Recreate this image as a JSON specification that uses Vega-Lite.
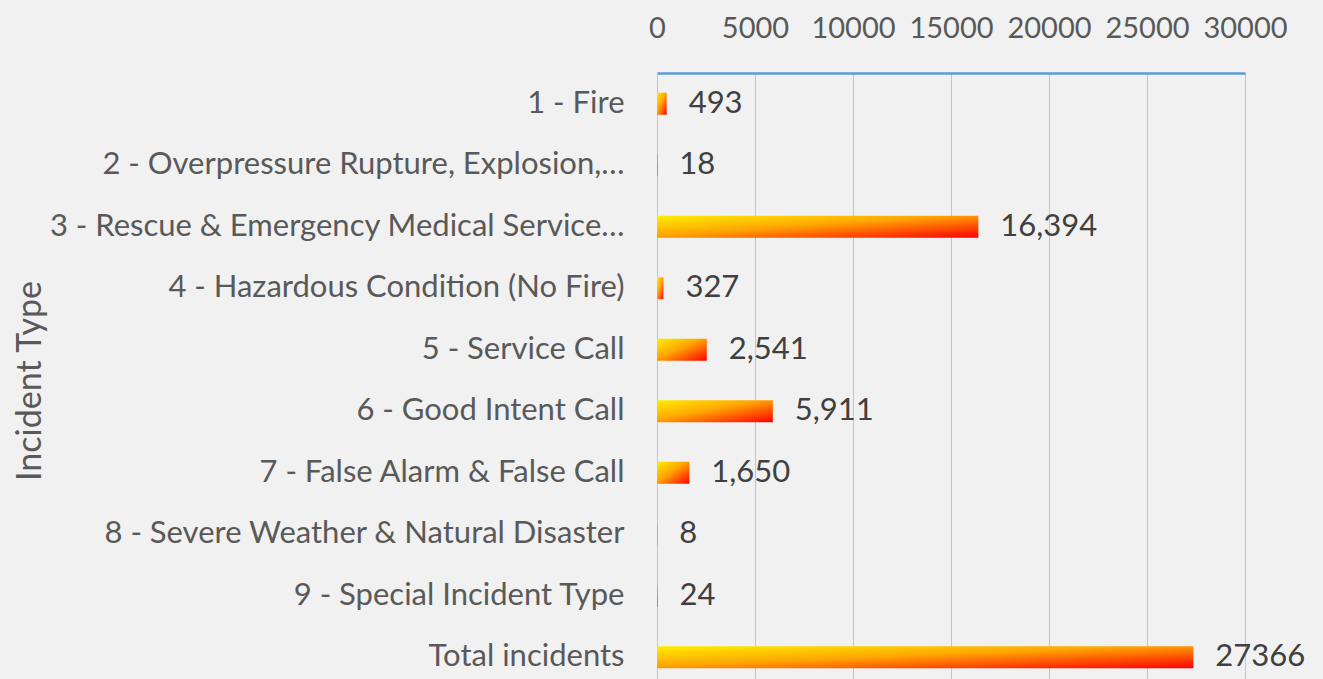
{
  "$schema": "https://vega.github.io/schema/vega-lite/v6.json",
  "autosize": {"type": "none"},
  "padding": {"left": 657, "top": 73, "right": 78, "bottom": 0},
  "width": 588,
  "height": 615,
  "background": "#f1f1f1",
  "config": {"view": {"stroke": null}, "font": "Lato"},
  "data": {
    "values": [
      {"type": "1 - Fire", "count": 493, "label": "493"},
      {"type": "2 - Overpressure Rupture, Explosion,…", "count": 18, "label": "18"},
      {"type": "3 - Rescue & Emergency Medical Service…", "count": 16394, "label": "16,394"},
      {"type": "4 - Hazardous Condition (No Fire)", "count": 327, "label": "327"},
      {"type": "5 - Service Call", "count": 2541, "label": "2,541"},
      {"type": "6 - Good Intent Call", "count": 5911, "label": "5,911"},
      {"type": "7 - False Alarm & False Call", "count": 1650, "label": "1,650"},
      {"type": "8 - Severe Weather & Natural Disaster", "count": 8, "label": "8"},
      {"type": "9 - Special Incident Type", "count": 24, "label": "24"},
      {"type": "Total incidents", "count": 27366, "label": "27366"}
    ]
  },
  "encoding": {
    "y": {
      "field": "type",
      "type": "nominal",
      "sort": null,
      "scale": {"paddingInner": 0.64, "paddingOuter": 0.32},
      "axis": {
        "title": "Incident Type",
        "titleFontSize": 34,
        "titleFontWeight": "normal",
        "titleColor": "#595959",
        "titleX": -627,
        "titleBaseline": "middle",
        "labelFontSize": 31,
        "labelColor": "#595959",
        "labelPadding": 33,
        "labelLimit": 800,
        "ticks": false,
        "domain": false
      }
    },
    "x": {
      "field": "count",
      "type": "quantitative",
      "scale": {"domain": [0, 30000], "nice": false},
      "axis": {
        "orient": "top",
        "title": null,
        "values": [0, 5000, 10000, 15000, 20000, 25000, 30000],
        "format": "d",
        "labelFontSize": 29,
        "labelColor": "#595959",
        "labelPadding": 30,
        "labelOverlap": false,
        "labelFlush": false,
        "ticks": false,
        "grid": true,
        "gridColor": "#c4c4c4",
        "gridWidth": 1,
        "domain": true,
        "domainColor": "#5b9bd5",
        "domainWidth": 2.5
      }
    }
  },
  "layer": [
    {
      "mark": {
        "type": "bar",
        "size": 22,
        "color": {
          "gradient": "linear",
          "x1": 0, "y1": 0, "x2": 1, "y2": 1,
          "stops": [
            {"offset": 0, "color": "#ffee00"},
            {"offset": 0.45, "color": "#ffa500"},
            {"offset": 1, "color": "#ff0000"}
          ]
        }
      }
    },
    {
      "mark": {"type": "text", "align": "left", "baseline": "middle", "dx": 22, "fontSize": 31, "color": "#404040"},
      "encoding": {"text": {"field": "label"}}
    }
  ]
}
